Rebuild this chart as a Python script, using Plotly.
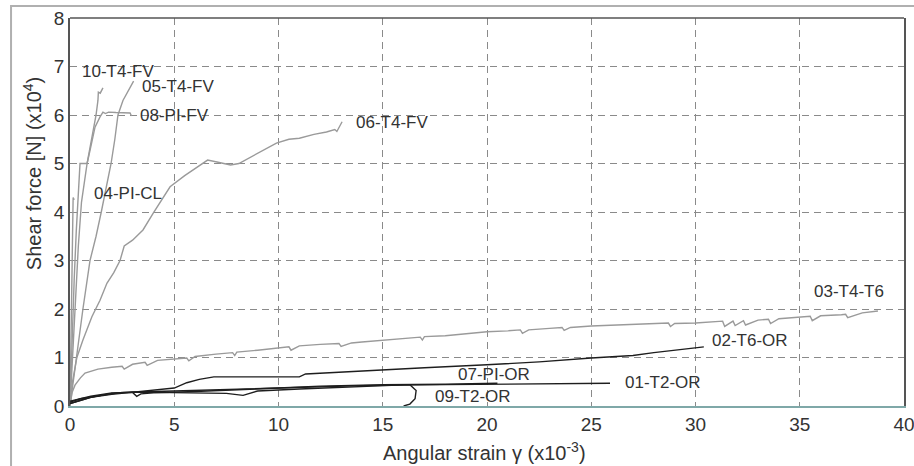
import plotly.graph_objects as go

# ---- data (x: angular strain x1e-3, y: shear force x1e4 N)
x10 = [0, 0.08, 0.2, 0.3, 0.42, 0.48, 0.82, 0.95, 1.1, 1.25, 1.34, 1.36, 1.45, 1.5, 1.58]
y10 = [0, 1.2, 2.6, 3.6, 4.4, 5.0, 5.0, 5.3, 5.6, 6.0, 6.3, 6.47, 6.45, 6.5, 6.56]

x05 = [0, 0.15, 0.33, 0.62, 0.96, 1.25, 1.5, 1.75, 1.97, 2.15, 2.3, 2.54, 2.8, 3.05]
y05 = [0, 0.5, 1.0, 2.0, 3.0, 3.5, 4.0, 4.5, 5.0, 5.5, 6.0, 6.3, 6.5, 6.7]

x08 = [0, 0.12, 0.25, 0.4, 0.55, 0.7, 0.82, 0.96, 1.2, 1.44, 1.58, 1.7, 1.85, 2.2, 2.6, 2.88, 2.95]
y08 = [0, 1.0, 2.2, 3.3, 4.2, 4.7, 5.0, 5.27, 5.75, 5.96, 6.06, 6.03, 6.06, 6.05, 6.05, 6.04, 5.98]

x04 = [0, 0.04, 0.08, 0.1, 0.13, 0.15, 0.2]
y04 = [0, 1.0, 2.2, 3.0, 3.8, 4.3, 4.25]

x06 = [0, 0.12, 0.33, 0.62, 1.05, 1.44, 1.77, 2.1, 2.4, 2.6, 3.0, 3.5, 4.0, 4.4, 4.8, 5.5, 6.1, 6.6,
       7.05, 7.7, 8.1, 8.5, 9.2, 9.9, 10.5, 11.0, 11.7, 12.3, 12.7, 12.8, 13.05]
y06 = [0, 0.5, 1.0, 1.36, 1.84, 2.18, 2.53, 2.75, 3.0, 3.3, 3.42, 3.63, 3.98, 4.25, 4.52, 4.75, 4.93, 5.07,
       5.03, 4.97, 5.0, 5.09, 5.25, 5.42, 5.5, 5.52, 5.6, 5.65, 5.7, 5.66, 5.86]

x03 = [0, 0.1, 0.24, 0.5, 0.72, 1.0, 1.34, 2.0, 2.5, 2.6, 3.0, 3.6, 3.7, 4.2, 5.0, 5.6, 5.7, 6.0, 7.0, 7.8, 7.9,
       8.0, 9.0, 10.0, 10.5, 10.6, 11.0, 12.0, 12.9, 13.0, 13.5, 14.0, 15.0, 16.0, 16.8, 16.9, 17.0, 18.0,
       19.0, 20.0, 21.0, 21.6, 21.7, 22.0, 23.0, 23.6, 23.7, 24.0, 25.0, 26.0, 27.0, 28.0, 28.7, 28.8, 29.0,
       30.0, 31.0, 31.3, 31.4, 31.8, 31.9, 32.3, 32.4, 33.0, 33.5, 33.6, 34.0, 35.0, 35.5, 35.6, 36.0, 37.0,
       37.2, 37.3, 38.0, 38.75]
y03 = [0, 0.28, 0.43, 0.58, 0.68, 0.72, 0.76, 0.8, 0.82, 0.76, 0.86, 0.9, 0.84, 0.94, 0.97, 0.99, 0.93, 1.02,
       1.07, 1.1, 1.04, 1.11, 1.15, 1.2, 1.22, 1.15, 1.24, 1.27, 1.29, 1.23, 1.3, 1.32, 1.36, 1.39, 1.42,
       1.36, 1.43, 1.45, 1.49, 1.53, 1.55, 1.57, 1.5, 1.57, 1.6, 1.62, 1.56, 1.62, 1.65, 1.67, 1.68, 1.7,
       1.71, 1.64, 1.7, 1.71, 1.74, 1.75, 1.64, 1.75, 1.66, 1.76, 1.67, 1.77, 1.79, 1.7, 1.8, 1.84, 1.85,
       1.76, 1.86, 1.88, 1.89, 1.82, 1.92, 1.96]

x02 = [0, 0.5, 1.0, 2.0, 3.0, 4.0, 5.0, 5.6, 6.2, 6.9, 8.0, 9.5, 11.0, 11.3, 12.5, 14.4, 17.0, 20.0, 22.5,
       25.0, 27.0, 28.0, 29.0, 30.4]
y02 = [0.05, 0.12, 0.18, 0.24, 0.28, 0.32, 0.37, 0.48, 0.55, 0.6, 0.6, 0.6, 0.6, 0.66, 0.69, 0.74, 0.79, 0.85,
       0.91, 0.99, 1.04, 1.1, 1.15, 1.22]

x01 = [0, 0.5, 1.0, 2.0, 3.0, 5.0, 8.0, 10.0, 14.0, 18.0, 22.0, 25.9]
y01 = [0.05, 0.12, 0.18, 0.26, 0.29, 0.31, 0.35, 0.38, 0.42, 0.44, 0.46, 0.47]

x07 = [0, 0.5, 1.0, 2.0, 3.0, 3.2, 3.4, 4.0, 6.0, 8.0, 10.0, 12.0, 15.0, 18.0, 20.5]
y07 = [0.08, 0.15, 0.2, 0.27, 0.28, 0.2, 0.25, 0.27, 0.3, 0.33, 0.37, 0.41, 0.44, 0.45, 0.47]

x09 = [0, 0.5, 1.5, 2.5, 4.0, 6.0, 7.5, 8.3, 9.0, 11.0, 13.0, 15.0, 16.3, 16.6, 16.55, 16.3, 16.0]
y09 = [0.1, 0.15, 0.22, 0.28, 0.28, 0.27, 0.26, 0.22, 0.31, 0.35, 0.38, 0.41, 0.44, 0.32, 0.15, 0.04, 0.0]

labels = ["10-T4-FV", "05-T4-FV", "08-PI-FV", "04-PI-CL", "06-T4-FV",
          "03-T4-T6", "02-T6-OR", "07-PI-OR", "01-T2-OR", "09-T2-OR"]
label_x = [0.48, 3.36, 3.26, 1.05, 13.6, 35.6, 30.7, 18.5, 26.5, 17.4]
label_y = [6.9, 6.58, 5.98, 4.39, 5.84, 2.36, 1.35, 0.64, 0.49, 0.19]

xticks = [0, 5, 10, 15, 20, 25, 30, 35, 40]
yticks = [0, 1, 2, 3, 4, 5, 6, 7, 8]

GRAY = "#9a9a9a"
BLACK = "#1e1e1e"
series = [
    (x10, y10, GRAY), (x05, y05, GRAY), (x08, y08, GRAY), (x04, y04, GRAY), (x06, y06, GRAY),
    (x03, y03, GRAY), (x02, y02, BLACK), (x07, y07, BLACK), (x01, y01, BLACK), (x09, y09, BLACK),
]

fig = go.Figure()
for (xs, ys, col), name in zip(series, labels):
    fig.add_trace(go.Scatter(x=xs, y=ys, mode="lines", name=name,
                             line=dict(color=col, width=1.4), showlegend=False))

FONT = "Liberation Sans, Arial, sans-serif"
for t, lx, ly in zip(labels, label_x, label_y):
    fig.add_annotation(x=lx, y=ly, text=t, showarrow=False, xanchor="left", yanchor="middle",
                       font=dict(family=FONT, size=17, color="#333333"))

fig.add_annotation(xref="paper", yref="paper", x=0.4976, y=-0.118, text="Angular strain γ (x10<sup>-3</sup>)",
                   showarrow=False, xanchor="center", yanchor="middle",
                   font=dict(family=FONT, size=20, color="#333333"))
fig.add_annotation(xref="paper", yref="paper", x=-0.0456, y=0.60, text="Shear force [N] (x10<sup>4</sup>)",
                   showarrow=False, textangle=-90, xanchor="center", yanchor="middle",
                   font=dict(family=FONT, size=20, color="#333333"))

# outer gray frame of the figure
fig.add_shape(type="rect", xref="paper", yref="paper", x0=-0.0707, x1=1.03, y0=-0.2, y1=1.031,
              line=dict(color="#b0b0b0", width=2), layer="below")
# top edge of plot frame
fig.add_shape(type="line", xref="paper", yref="paper", x0=0, x1=1, y0=1, y1=1,
              line=dict(color="#555555", width=1.5))

fig.update_xaxes(range=[0, 40], tickvals=xticks, showgrid=True, gridcolor="#8a8a8a", griddash="7px,5px",
                 gridwidth=1, zeroline=False, showline=True, linecolor="#7fa8a8", linewidth=2,
                 ticks="", automargin=False, ticklabeloverflow="allow",
                 tickfont=dict(family=FONT, size=19, color="#333333"))
fig.update_yaxes(range=[0, 8], tickvals=yticks, showgrid=True, gridcolor="#8a8a8a", griddash="7px,5px",
                 gridwidth=1, zeroline=False, showline=True, linecolor="#555555", linewidth=1.5,
                 mirror=True, ticks="", automargin=False, ticklabeloverflow="allow",
                 tickfont=dict(family=FONT, size=19, color="#333333"))

fig.update_layout(width=914, height=466, margin=dict(l=70, r=10, t=18, b=60, autoexpand=False),
                  plot_bgcolor="white", paper_bgcolor="white")

# remove the default 8px page margin so the figure fills the window exactly; hide the modebar
fig.write_html("out.html", config={"displayModeBar": False},
               post_script="document.body.style.margin='0';")
